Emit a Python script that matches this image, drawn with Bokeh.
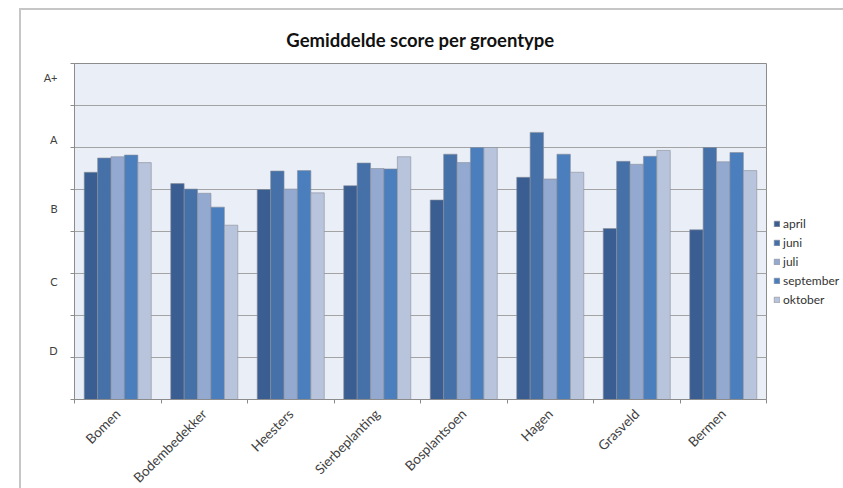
import math
from bokeh.plotting import figure
from bokeh.models import (ColumnDataSource, Range1d, FixedTicker,
                          Legend, LegendItem, Spacer)
from bokeh.layouts import row, column
from bokeh.embed import file_html
from bokeh.resources import INLINE

categories = ["Bomen", "Bodembedekker", "Heesters", "Sierbeplanting",
              "Bosplantsoen", "Hagen", "Grasveld", "Bermen"]
series = ["april", "juni", "juli", "september", "oktober"]
april = [5.41, 5.14, 5.00, 5.09, 4.75, 5.29, 4.07, 4.04]
juni = [5.75, 5.01, 5.44, 5.63, 5.84, 6.36, 5.67, 6.00]
juli = [5.78, 4.91, 5.01, 5.50, 5.64, 5.25, 5.60, 5.66]
september = [5.82, 4.58, 5.45, 5.49, 6.00, 5.84, 5.79, 5.88]
oktober = [5.64, 4.15, 4.92, 5.78, 6.00, 5.41, 5.93, 5.45]
grade_labels = ["D", "C", "B", "A", "A+"]
grade_positions = [1.17, 2.80, 4.55, 6.18, 7.66]
grid_lines = [0, 1, 2, 3, 4, 5, 6, 7, 8]

colors = ["#3a5e91", "#4571a8", "#94a9d0", "#4a7ebd", "#b8c4dc"]

n = len(categories)
centers = [i + 0.5 for i in range(n)]
boundaries = list(range(n + 1))

data = dict(cat=categories, xc=centers, april=april, juni=juni, juli=juli,
            september=september, oktober=oktober)

FONT = "Lato"
p = figure(x_range=Range1d(0, n), y_range=Range1d(0, 8),
           frame_width=690, frame_height=334,
           output_backend="svg", toolbar_location=None,
           min_border_left=53, min_border_right=10, min_border_top=53,
           min_border_bottom=88,
           title="Gemiddelde score per groentype")
p.styles = {"border-top": "2px solid #c6c6c6", "border-left": "2px solid #c6c6c6"}

p.title.align = "center"
p.title.text_font = FONT
p.title.text_font_size = "18.5px"
p.title.text_font_style = "bold"
p.title.text_color = "#111111"
p.title.standoff = 25
p.title.offset = -6

p.background_fill_color = "#e9eef7"
p.border_fill_color = "white"
p.outline_line_color = "#8c8c8c"
p.outline_line_width = 1

bw = 0.155
offsets = [-2 * bw, -bw, 0, bw, 2 * bw]
items = []
for s, c, off in zip(series, colors, offsets):
    src = ColumnDataSource(dict(x=[xc + off for xc in centers], top=data[s]))
    r = p.vbar(x="x", top="top", width=bw, source=src,
               fill_color=c, line_color="#8a8f99", line_width=0.6)
    items.append(LegendItem(label=s, renderers=[r]))

p.xgrid.grid_line_color = None
p.ygrid.ticker = FixedTicker(ticks=grid_lines)
p.ygrid.grid_line_color = "#a3a3a3"
p.ygrid.grid_line_width = 1

p.yaxis.ticker = FixedTicker(ticks=grade_positions, minor_ticks=grid_lines)
p.yaxis.major_label_overrides = {pos: lab for pos, lab in zip(grade_positions, grade_labels)}
p.yaxis.major_tick_line_color = None
p.yaxis.minor_tick_line_color = "#8c8c8c"
p.yaxis.minor_tick_out = 4
p.yaxis.minor_tick_in = 0
p.yaxis.axis_line_color = "#8c8c8c"
p.yaxis.major_label_standoff = 11
p.yaxis.major_label_text_font = FONT
p.yaxis.major_label_text_font_size = "11px"
p.yaxis.major_label_text_color = "#404040"

p.xaxis.ticker = FixedTicker(ticks=centers, minor_ticks=boundaries)
p.xaxis.major_label_overrides = {c: lab for c, lab in zip(centers, categories)}
p.xaxis.major_label_orientation = math.pi / 4
p.xaxis.major_tick_line_color = None
p.xaxis.minor_tick_line_color = "#8c8c8c"
p.xaxis.minor_tick_out = 4
p.xaxis.minor_tick_in = 0
p.xaxis.axis_line_color = "#8c8c8c"
p.xaxis.major_label_text_font = FONT
p.xaxis.major_label_text_font_size = "13.5px"
p.xaxis.major_label_text_color = "#404040"
p.xaxis.major_label_standoff = 6

legend = Legend(items=items, location=(7, 92), orientation="vertical",
                glyph_width=7, glyph_height=7, label_standoff=3,
                label_height=15, spacing=4, padding=0, margin=0,
                label_text_font=FONT, label_text_font_size="12px",
                label_text_color="#333333", border_line_color=None,
                background_fill_alpha=0)
p.add_layout(legend, "right")

layout = column(Spacer(height=8), row(Spacer(width=19), p))
open("out.html", "w").write(file_html(layout, INLINE))
